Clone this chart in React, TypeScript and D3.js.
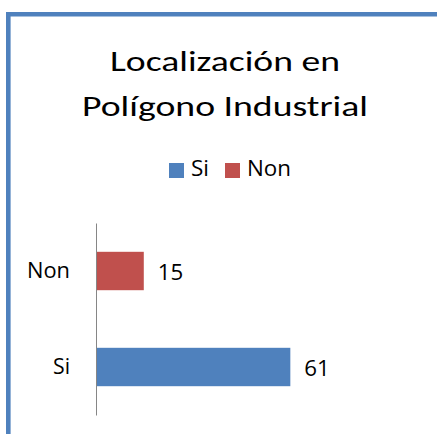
import React, { useEffect, useRef } from "react";
import * as d3 from "d3";

const categories = ["Non", "Si"];
const values = [15, 61];
const colors = ["#C0504D", "#4F81BD"];
const legendLabels = ["Si", "Non"];
const legendColors = ["#4F81BD", "#C0504D"];
const titleLines = ["Localización en", "Polígono Industrial"];

const FONT = "Carlito, Lato, 'Open Sans', sans-serif";
const SMALL_FONT = "'Open Sans', Lato, sans-serif";
// widths fitted to the reference glyphs
const titleWidths = [230, 286];
const legendWidths = [18, 44];
const categoryWidths: Record<string, number> = { Non: 43, Si: 17 };

const App = () => {
	const svgRef = useRef<SVGSVGElement>(null);

	useEffect(() => {
		const width = 437;
		const height = 434;
		const svg = d3.select(svgRef.current);
		svg.selectAll("*").remove();
		svg.attr("width", width).attr("height", height);

		svg.append("rect").attr("width", width).attr("height", height).attr("fill", "#fff");

		// blue frame of the chart area (only left and top edges visible)
		svg
			.append("path")
			.attr("d", `M8.3,${height} V14.3 H${width}`)
			.attr("fill", "none")
			.attr("stroke", "#4F81BD")
			.attr("stroke-width", 4.6);

		// title
		svg
			.append("g")
			.selectAll("text")
			.data(titleLines)
			.enter()
			.append("text")
			.attr("x", 225)
			.attr("y", (d, i) => 71 + i * 44.5)
			.attr("text-anchor", "middle")
			.attr("textLength", (d, i) => titleWidths[i])
			.attr("lengthAdjust", "spacingAndGlyphs")
			.style("font-family", FONT)
			.style("font-size", "29px")
			.attr("fill", "#000")
			.text((d) => d);

		// legend
		const legend = svg.append("g").attr("transform", "translate(169,163)");
		const legendX = [0, 56];
		legendLabels.forEach((l, i) => {
			legend
				.append("rect")
				.attr("x", legendX[i])
				.attr("y", 0)
				.attr("width", 15)
				.attr("height", 15)
				.attr("fill", legendColors[i]);
			legend
				.append("text")
				.attr("x", legendX[i] + 22)
				.attr("y", 12.5)
				.attr("textLength", legendWidths[i])
				.attr("lengthAdjust", "spacingAndGlyphs")
				.style("font-family", SMALL_FONT)
				.style("font-size", "22px")
				.attr("fill", "#000")
				.text(l);
		});

		const margin = { top: 223, left: 96, bottom: 19 };
		const innerH = height - margin.top - margin.bottom;

		const x = d3.scaleLinear().domain([0, 70]).range([margin.left, margin.left + 223]);
		const y = d3
			.scaleBand()
			.domain(categories)
			.range([margin.top, margin.top + innerH])
			.paddingInner(0.6)
			.paddingOuter(0.3);

		// bars
		svg
			.append("g")
			.selectAll("rect")
			.data(values)
			.enter()
			.append("rect")
			.attr("x", x(0))
			.attr("y", (d, i) => y(categories[i])!)
			.attr("width", (d) => x(d) - x(0))
			.attr("height", y.bandwidth())
			.attr("fill", (d, i) => colors[i]);

		// value labels
		svg
			.append("g")
			.selectAll("text")
			.data(values)
			.enter()
			.append("text")
			.attr("x", (d) => x(d) + 14)
			.attr("y", (d, i) => y(categories[i])! + y.bandwidth() / 2)
			.attr("dy", "0.42em")
			.attr("textLength", 25.5)
			.attr("lengthAdjust", "spacingAndGlyphs")
			.style("font-family", SMALL_FONT)
			.style("font-size", "22px")
			.attr("fill", "#000")
			.text((d) => d);

		// axis
		const axis = svg
			.append("g")
			.attr("transform", `translate(${margin.left},0)`)
			.call(d3.axisLeft(y).tickSize(0).tickPadding(26));
		axis.select(".domain").attr("stroke", "#868686").attr("stroke-width", 1);
		axis
			.selectAll<SVGTextElement, string>("text")
			.attr("textLength", (d) => categoryWidths[d])
			.attr("lengthAdjust", "spacingAndGlyphs")
			.attr("dy", "0.34em")
			.style("font-family", SMALL_FONT)
			.style("font-size", "22px")
			.attr("fill", "#000");
	}, []);

	return (
		<svg
			ref={svgRef}
			style={{ position: "absolute", left: 0, top: 0, display: "block" }}
		></svg>
	);
};

export default App;
